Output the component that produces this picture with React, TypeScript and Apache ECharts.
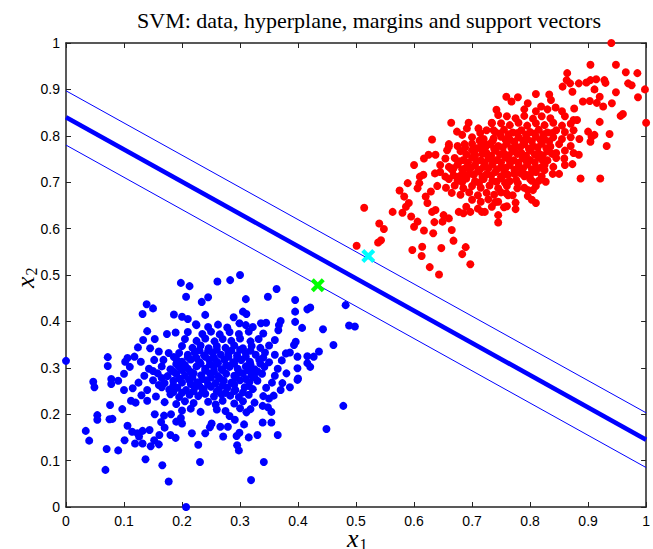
import React, { useEffect, useRef } from "react";
import * as echarts from "echarts";

const TITLE = "SVM: data, hyperplane, margins and support vectors";
const xTicks = [0, 0.1, 0.2, 0.3, 0.4, 0.5, 0.6, 0.7, 0.8, 0.9, 1];
const yTicks = [0, 0.1, 0.2, 0.3, 0.4, 0.5, 0.6, 0.7, 0.8, 0.9, 1];

const hyperplane = [[0, 0.84], [1, 0.145]];
const marginUpper = [[0, 0.897], [1, 0.203]];
const marginLower = [[0, 0.78], [1, 0.085]];

const supportBlue = [[0.434, 0.478]];
const supportRed = [[0.521, 0.541]];

const blueOutliers = [
  [0, 0.315], [0.198, 0.483], [0.213, 0.476], [0.207, 0.453], [0.139, 0.437], [0.15, 0.428], [0.132, 0.416],
  [0.234, 0.442], [0.2, 0.41], [0.186, 0.415], [0.21, 0.405], [0.24, 0.414], [0.224, 0.394], [0.14, 0.379],
  [0.133, 0.36], [0.153, 0.362], [0.174, 0.373], [0.189, 0.376], [0.124, 0.344], [0.145, 0.342], [0.16, 0.335],
  [0.072, 0.323], [0.072, 0.304], [0.106, 0.321], [0.102, 0.313], [0.118, 0.324], [0.129, 0.313], [0.152, 0.317],
  [0.177, 0.332], [0.186, 0.323], [0.191, 0.317], [0.047, 0.27], [0.078, 0.276], [0.078, 0.265],
  [0.261, 0.486], [0.283, 0.489], [0.3, 0.5], [0.363, 0.47], [0.348, 0.453], [0.31, 0.448], [0.245, 0.452],
  [0.395, 0.446], [0.395, 0.421], [0.421, 0.43], [0.416, 0.426], [0.482, 0.435], [0.488, 0.391], [0.498, 0.389],
  [0.443, 0.383], [0.461, 0.349], [0.395, 0.399], [0.407, 0.386], [0.305, 0.421], [0.311, 0.416], [0.289, 0.409],
  [0.336, 0.396], [0.345, 0.397], [0.37, 0.401], [0.367, 0.392], [0.366, 0.381], [0.299, 0.396], [0.396, 0.356],
  [0.393, 0.349], [0.436, 0.335], [0.427, 0.324], [0.416, 0.325], [0.399, 0.324], [0.379, 0.331], [0.386, 0.333],
  [0.416, 0.31], [0.421, 0.302], [0.399, 0.299], [0.4, 0.277],
  [0.478, 0.218], [0.449, 0.168], [0.365, 0.155], [0.341, 0.097], [0.319, 0.058], [0.231, 0.097], [0.298, 0.122],
  [0.295, 0.133], [0.315, 0.15], [0.33, 0.155], [0.271, 0.152], [0.299, 0.16], [0.294, 0.153], [0.339, 0.182],
  [0.354, 0.182], [0.307, 0.178], [0.266, 0.173], [0.279, 0.173], [0.282, 0.196], [0.291, 0.188], [0.24, 0.159],
  [0.251, 0.18], [0.248, 0.172], [0.318, 0.211], [0.339, 0.218], [0.348, 0.215], [0.354, 0.205], [0.35, 0.234],
  [0.358, 0.24], [0.37, 0.252], [0.373, 0.267], [0.386, 0.258], [0.399, 0.274],
  [0.207, 0.0], [0.177, 0.055], [0.068, 0.08], [0.137, 0.103], [0.166, 0.09], [0.07, 0.125], [0.09, 0.122],
  [0.04, 0.143], [0.034, 0.164], [0.101, 0.144], [0.106, 0.175], [0.114, 0.162], [0.123, 0.159], [0.132, 0.164],
  [0.126, 0.152], [0.119, 0.137], [0.132, 0.137], [0.146, 0.131], [0.16, 0.135], [0.152, 0.144], [0.144, 0.166],
  [0.161, 0.155], [0.17, 0.171], [0.18, 0.155], [0.189, 0.149], [0.054, 0.198], [0.054, 0.188], [0.075, 0.189],
  [0.08, 0.19], [0.076, 0.22], [0.097, 0.211], [0.112, 0.229], [0.12, 0.225], [0.14, 0.229], [0.1, 0.252],
  [0.049, 0.258], [0.228, 0.134], [0.217, 0.159], [0.153, 0.2], [0.169, 0.197], [0.164, 0.183], [0.181, 0.2],
  [0.19, 0.184], [0.198, 0.192], [0.2, 0.18],
];

const blueCore = [
  [0.2, 0.208], [0.215, 0.212], [0.232, 0.205], [0.26, 0.21], [0.275, 0.207], [0.3, 0.213], [0.311, 0.204],
  [0.17, 0.226], [0.19, 0.222], [0.205, 0.228], [0.22, 0.224], [0.245, 0.227], [0.258, 0.221], [0.27, 0.229],
  [0.29, 0.223], [0.305, 0.228], [0.325, 0.225],
  [0.13, 0.241], [0.155, 0.238], [0.18, 0.243], [0.195, 0.237], [0.213, 0.242], [0.228, 0.239], [0.24, 0.244],
  [0.255, 0.238], [0.268, 0.243], [0.283, 0.24], [0.298, 0.237], [0.315, 0.242], [0.34, 0.239],
  [0.115, 0.256], [0.14, 0.252], [0.165, 0.258], [0.178, 0.253], [0.192, 0.257], [0.207, 0.252], [0.222, 0.258],
  [0.237, 0.254], [0.25, 0.259], [0.263, 0.253], [0.278, 0.257], [0.292, 0.252], [0.308, 0.258], [0.322, 0.254],
  [0.345, 0.257],
  [0.09, 0.272], [0.125, 0.268], [0.15, 0.273], [0.17, 0.267], [0.185, 0.272], [0.2, 0.268], [0.212, 0.274],
  [0.226, 0.269], [0.242, 0.273], [0.258, 0.267], [0.272, 0.272], [0.285, 0.268], [0.3, 0.273], [0.316, 0.269],
  [0.33, 0.272], [0.355, 0.268],
  [0.1, 0.287], [0.135, 0.283], [0.158, 0.288], [0.175, 0.282], [0.19, 0.287], [0.205, 0.283], [0.22, 0.288],
  [0.233, 0.284], [0.248, 0.288], [0.262, 0.282], [0.276, 0.287], [0.29, 0.283], [0.305, 0.288], [0.32, 0.284],
  [0.338, 0.287], [0.36, 0.283], [0.38, 0.288],
  [0.11, 0.302], [0.143, 0.298], [0.165, 0.303], [0.18, 0.297], [0.195, 0.302], [0.21, 0.298], [0.225, 0.303],
  [0.24, 0.298], [0.255, 0.303], [0.268, 0.297], [0.282, 0.302], [0.296, 0.298], [0.31, 0.303], [0.325, 0.297],
  [0.342, 0.302], [0.365, 0.298],
  [0.168, 0.317], [0.2, 0.313], [0.215, 0.318], [0.23, 0.312], [0.247, 0.317], [0.26, 0.313], [0.273, 0.318],
  [0.288, 0.312], [0.302, 0.317], [0.317, 0.313], [0.333, 0.318], [0.35, 0.312], [0.372, 0.316],
  [0.195, 0.332], [0.21, 0.328], [0.222, 0.333], [0.238, 0.327], [0.253, 0.332], [0.267, 0.328], [0.28, 0.333],
  [0.295, 0.327], [0.31, 0.332], [0.327, 0.328], [0.343, 0.333], [0.36, 0.328],
  [0.2, 0.347], [0.218, 0.343], [0.232, 0.348], [0.246, 0.342], [0.26, 0.347], [0.275, 0.343], [0.29, 0.348],
  [0.305, 0.342], [0.32, 0.347], [0.335, 0.343], [0.35, 0.348],
  [0.205, 0.362], [0.225, 0.358], [0.24, 0.363], [0.256, 0.357], [0.27, 0.362], [0.285, 0.358], [0.3, 0.363],
  [0.318, 0.357], [0.332, 0.362], [0.36, 0.36],
  [0.21, 0.377], [0.235, 0.373], [0.25, 0.378], [0.265, 0.372], [0.282, 0.377], [0.298, 0.373], [0.315, 0.378],
  [0.34, 0.374],
  [0.225, 0.392], [0.245, 0.388], [0.262, 0.393], [0.278, 0.387], [0.31, 0.392], [0.322, 0.388],
];

const blueCoreDense = [
  [0.185, 0.248], [0.2, 0.246], [0.22, 0.25], [0.235, 0.247], [0.26, 0.249], [0.275, 0.246], [0.29, 0.25], [0.305, 0.247],
  [0.16, 0.263], [0.185, 0.262], [0.215, 0.265], [0.23, 0.261], [0.245, 0.264], [0.27, 0.262], [0.29, 0.264], [0.315, 0.261],
  [0.165, 0.278], [0.195, 0.277], [0.218, 0.28], [0.235, 0.276], [0.25, 0.279], [0.265, 0.277], [0.293, 0.279],
  [0.31, 0.276], [0.325, 0.279],
  [0.15, 0.293], [0.185, 0.292], [0.2, 0.295], [0.215, 0.291], [0.24, 0.294], [0.255, 0.292], [0.27, 0.295],
  [0.298, 0.291], [0.315, 0.294], [0.33, 0.292],
  [0.19, 0.308], [0.205, 0.306], [0.232, 0.309], [0.248, 0.307], [0.262, 0.31], [0.276, 0.306], [0.29, 0.309],
  [0.318, 0.307], [0.335, 0.309],
  [0.21, 0.323], [0.225, 0.321], [0.24, 0.324], [0.255, 0.322], [0.28, 0.324], [0.295, 0.321], [0.31, 0.324], [0.34, 0.322],
  [0.23, 0.338], [0.245, 0.337], [0.26, 0.339], [0.285, 0.337], [0.3, 0.339], [0.318, 0.337],
];

const redOutliers = [
  [0.664, 0.828], [0.631, 0.792], [0.694, 0.828], [0.691, 0.816], [0.674, 0.809], [0.683, 0.802], [0.711, 0.816],
  [0.714, 0.806], [0.734, 0.828], [0.737, 0.812], [0.737, 0.794], [0.6, 0.737], [0.617, 0.751], [0.625, 0.759],
  [0.637, 0.759], [0.616, 0.716], [0.61, 0.712], [0.657, 0.769], [0.66, 0.777], [0.654, 0.751], [0.687, 0.782],
  [0.663, 0.73], [0.654, 0.712], [0.677, 0.712], [0.685, 0.719], [0.7, 0.769], [0.705, 0.759], [0.717, 0.769],
  [0.72, 0.784],
  [0.94, 1.0], [0.904, 0.953], [0.948, 0.953], [0.965, 0.937], [0.985, 0.935], [0.864, 0.935], [0.863, 0.92],
  [0.856, 0.906], [0.869, 0.913], [0.884, 0.913], [0.873, 0.895], [0.897, 0.915], [0.904, 0.92], [0.914, 0.922],
  [0.928, 0.92], [0.93, 0.914], [0.911, 0.9], [0.948, 0.894], [0.969, 0.913], [0.975, 0.909], [0.998, 0.9],
  [0.986, 0.883], [0.92, 0.884], [0.915, 0.871], [0.903, 0.875], [0.891, 0.874], [0.926, 0.863], [0.941, 0.87],
  [0.96, 0.847], [0.956, 0.843], [1.0, 0.828], [0.92, 0.83], [0.9, 0.809], [0.906, 0.798], [0.911, 0.802],
  [0.904, 0.787], [0.937, 0.804], [0.932, 0.778], [0.876, 0.859], [0.875, 0.834], [0.881, 0.834], [0.884, 0.759],
  [0.873, 0.739], [0.859, 0.751], [0.887, 0.708], [0.921, 0.708], [0.759, 0.884], [0.779, 0.883], [0.768, 0.874],
  [0.796, 0.87], [0.81, 0.89], [0.833, 0.889], [0.836, 0.877], [0.844, 0.861], [0.819, 0.863], [0.742, 0.856],
  [0.745, 0.845], [0.734, 0.827],
  [0.514, 0.645], [0.54, 0.611], [0.548, 0.599], [0.543, 0.575], [0.538, 0.57], [0.501, 0.563], [0.597, 0.554],
  [0.614, 0.561], [0.613, 0.541], [0.627, 0.517], [0.643, 0.501], [0.647, 0.558], [0.683, 0.545], [0.689, 0.56],
  [0.697, 0.523], [0.668, 0.574], [0.665, 0.597], [0.633, 0.59], [0.617, 0.596], [0.6, 0.604], [0.606, 0.615],
  [0.595, 0.626], [0.58, 0.634], [0.563, 0.636], [0.586, 0.647], [0.575, 0.682], [0.589, 0.698], [0.606, 0.687],
  [0.609, 0.698], [0.62, 0.669], [0.629, 0.68], [0.649, 0.615], [0.635, 0.614], [0.636, 0.719], [0.666, 0.726],
  [0.683, 0.718],
  [0.583, 0.669], [0.591, 0.655], [0.623, 0.655], [0.637, 0.64], [0.631, 0.636], [0.651, 0.629], [0.66, 0.622],
  [0.677, 0.636], [0.685, 0.633], [0.697, 0.636], [0.717, 0.636],
  [0.81, 0.655], [0.803, 0.662], [0.805, 0.683], [0.796, 0.683], [0.796, 0.67], [0.775, 0.656], [0.775, 0.642],
  [0.755, 0.646], [0.745, 0.629], [0.745, 0.613], [0.734, 0.647], [0.722, 0.636], [0.745, 0.658], [0.759, 0.676],
  [0.762, 0.672], [0.778, 0.687], [0.776, 0.705], [0.779, 0.698], [0.803, 0.703], [0.827, 0.701], [0.839, 0.718],
  [0.825, 0.726], [0.793, 0.716], [0.784, 0.719], [0.756, 0.723], [0.762, 0.716], [0.759, 0.698],
];

const redCore = [
  [0.69, 0.647], [0.71, 0.643], [0.76, 0.648],
  [0.7, 0.662], [0.715, 0.658], [0.728, 0.663], [0.74, 0.657],
  [0.665, 0.677], [0.68, 0.673], [0.695, 0.678], [0.71, 0.672], [0.725, 0.677], [0.738, 0.673], [0.75, 0.678],
  [0.77, 0.672],
  [0.64, 0.692], [0.655, 0.688], [0.67, 0.693], [0.685, 0.687], [0.7, 0.692], [0.715, 0.688], [0.73, 0.693],
  [0.745, 0.687], [0.76, 0.692], [0.79, 0.688], [0.81, 0.692],
  [0.66, 0.707], [0.675, 0.703], [0.69, 0.708], [0.705, 0.702], [0.72, 0.707], [0.735, 0.703], [0.75, 0.708],
  [0.765, 0.702], [0.8, 0.707], [0.815, 0.703],
  [0.645, 0.722], [0.695, 0.718], [0.71, 0.723], [0.725, 0.717], [0.74, 0.722], [0.773, 0.718], [0.81, 0.722],
  [0.85, 0.718],
  [0.645, 0.737], [0.66, 0.733], [0.675, 0.738], [0.69, 0.732], [0.705, 0.737], [0.72, 0.733], [0.735, 0.738],
  [0.75, 0.732], [0.765, 0.737], [0.78, 0.733], [0.795, 0.738], [0.81, 0.732], [0.825, 0.737], [0.84, 0.733],
  [0.86, 0.737],
  [0.67, 0.752], [0.685, 0.748], [0.7, 0.753], [0.715, 0.747], [0.728, 0.752], [0.743, 0.748], [0.758, 0.753],
  [0.772, 0.747], [0.787, 0.752], [0.8, 0.748], [0.815, 0.753], [0.83, 0.747], [0.845, 0.752],
  [0.68, 0.767], [0.725, 0.763], [0.74, 0.768], [0.755, 0.762], [0.77, 0.767], [0.785, 0.763], [0.8, 0.768],
  [0.815, 0.762], [0.83, 0.767], [0.845, 0.763], [0.86, 0.768], [0.875, 0.763],
  [0.66, 0.782], [0.675, 0.778], [0.7, 0.783], [0.715, 0.777], [0.73, 0.782], [0.745, 0.778], [0.76, 0.783],
  [0.775, 0.777], [0.79, 0.782], [0.805, 0.778], [0.82, 0.783], [0.835, 0.777], [0.85, 0.782], [0.87, 0.778],
  [0.7, 0.797], [0.72, 0.793], [0.75, 0.798], [0.765, 0.792], [0.78, 0.797], [0.795, 0.793], [0.81, 0.798],
  [0.825, 0.792], [0.84, 0.797], [0.855, 0.793], [0.87, 0.797], [0.885, 0.793],
  [0.725, 0.812], [0.74, 0.808], [0.755, 0.813], [0.77, 0.807], [0.785, 0.812], [0.8, 0.808], [0.815, 0.813],
  [0.83, 0.807], [0.845, 0.812], [0.86, 0.808], [0.875, 0.812],
  [0.75, 0.827], [0.765, 0.823], [0.78, 0.828], [0.795, 0.822], [0.81, 0.827], [0.825, 0.823], [0.84, 0.828],
  [0.855, 0.822], [0.87, 0.826],
  [0.76, 0.842], [0.775, 0.838], [0.79, 0.843], [0.805, 0.837], [0.82, 0.842], [0.835, 0.838], [0.86, 0.842],
  [0.79, 0.857], [0.81, 0.853], [0.83, 0.857], [0.855, 0.853],
];

const redCoreDense = [
  [0.683, 0.7], [0.712, 0.699], [0.742, 0.701], [0.757, 0.698],
  [0.668, 0.715], [0.683, 0.713], [0.703, 0.716], [0.718, 0.712], [0.733, 0.715], [0.75, 0.713], [0.76, 0.716],
  [0.79, 0.713], [0.8, 0.716], [0.82, 0.713],
  [0.668, 0.73], [0.683, 0.728], [0.698, 0.731], [0.713, 0.727], [0.728, 0.73], [0.743, 0.728], [0.758, 0.731],
  [0.773, 0.727], [0.788, 0.73], [0.803, 0.728], [0.818, 0.731],
  [0.678, 0.745], [0.693, 0.743], [0.708, 0.746], [0.722, 0.742], [0.736, 0.745], [0.75, 0.743], [0.765, 0.746],
  [0.78, 0.742], [0.794, 0.745], [0.808, 0.743], [0.822, 0.746],
  [0.69, 0.76], [0.705, 0.758], [0.718, 0.761], [0.733, 0.757], [0.748, 0.76], [0.763, 0.758], [0.778, 0.761],
  [0.793, 0.757], [0.808, 0.76], [0.822, 0.758], [0.838, 0.761],
  [0.688, 0.775], [0.708, 0.773], [0.723, 0.776], [0.738, 0.772], [0.753, 0.775], [0.768, 0.773], [0.783, 0.776],
  [0.798, 0.772], [0.813, 0.775], [0.828, 0.773],
  [0.713, 0.79], [0.735, 0.788], [0.758, 0.791], [0.773, 0.787], [0.788, 0.79], [0.803, 0.788], [0.818, 0.791],
  [0.833, 0.788],
  [0.748, 0.805], [0.763, 0.803], [0.778, 0.806], [0.793, 0.802], [0.808, 0.805], [0.823, 0.803], [0.838, 0.806],
];

const blueData = [...blueOutliers, ...blueCore, ...blueCoreDense];
const redData = [...redOutliers, ...redCore, ...redCoreDense];

const CROSS = "path://M0,3 L3,0 L7,4 L11,0 L14,3 L10,7 L14,11 L11,14 L7,10 L3,14 L0,11 L4,7 Z";
const fmt = (v: number) => (Math.abs(v - Math.round(v)) < 1e-9 ? String(Math.round(v)) : v.toFixed(1));
const tickFont = "Liberation Sans";
const serif = "Liberation Serif";

export default function App() {
  const ref = useRef<HTMLDivElement>(null);
  useEffect(() => {
    if (!ref.current) return;
    const chart = echarts.init(ref.current, undefined, { renderer: "svg" });
    const axisCommon = {
      type: "value" as const,
      min: 0,
      max: 1,
      interval: 0.1,
      axisLine: { show: true, onZero: false, lineStyle: { color: "#222", width: 1.5 } },
      axisTick: { show: true, inside: true, length: 5, lineStyle: { color: "#222", width: 1 } },
      splitLine: { show: false },
    };
    const richLabel = {
      x: { fontFamily: serif, fontStyle: "italic", fontSize: 26, fill: "#000", verticalAlign: "top", lineHeight: 26 },
      s: { fontFamily: serif, fontSize: 16, fill: "#000", verticalAlign: "top", lineHeight: 16, padding: [11, 0, 0, 1] },
    };
    chart.setOption({
      animation: false,
      backgroundColor: "#fff",
      grid: { left: 66, top: 43, width: 587, height: 464, show: false },
      xAxis: [
        {
          ...axisCommon,
          position: "bottom",
          axisLabel: { formatter: fmt, fontFamily: tickFont, fontSize: 14, color: "#000", margin: 7 },
        },
        { ...axisCommon, position: "top", axisLabel: { show: false } },
      ],
      yAxis: [
        {
          ...axisCommon,
          position: "left",
          axisLabel: { formatter: fmt, fontFamily: tickFont, fontSize: 14, color: "#000", margin: 6 },
        },
        { ...axisCommon, position: "right", axisLabel: { show: false } },
      ],
      graphic: [
        {
          type: "text",
          x: 369,
          y: 20,
          style: {
            text: TITLE,
            textAlign: "center",
            textVerticalAlign: "middle",
            fontFamily: serif,
            fontSize: 22,
            fill: "#000",
          },
        },
        {
          type: "text",
          x: 347,
          y: 525,
          style: { text: "{x|x}{s|1}", rich: richLabel },
        },
        {
          type: "text",
          x: 12,
          y: 288,
          rotation: Math.PI / 2,
          style: { text: "{x|x}{s|2}", rich: richLabel },
        },
      ],
      series: [
        {
          type: "scatter",
          data: blueData,
          symbol: "circle",
          symbolSize: 8,
          itemStyle: { color: "#0000ff", opacity: 1 },
          silent: true,
        },
        {
          type: "scatter",
          data: redData,
          symbol: "circle",
          symbolSize: 8,
          itemStyle: { color: "#ff0000", opacity: 1 },
          silent: true,
        },
        {
          type: "line",
          data: hyperplane,
          symbol: "none",
          lineStyle: { color: "#0000ff", width: 4.5 },
          silent: true,
        },
        {
          type: "line",
          data: marginUpper,
          symbol: "none",
          lineStyle: { color: "#0000ff", width: 1 },
          silent: true,
        },
        {
          type: "line",
          data: marginLower,
          symbol: "none",
          lineStyle: { color: "#0000ff", width: 1 },
          silent: true,
        },
        {
          type: "scatter",
          data: supportBlue,
          symbol: CROSS,
          symbolSize: 14,
          itemStyle: { color: "#00ff00", opacity: 1 },
          silent: true,
          z: 5,
        },
        {
          type: "scatter",
          data: supportRed,
          symbol: CROSS,
          symbolSize: 14,
          itemStyle: { color: "#00ffff", opacity: 1 },
          silent: true,
          z: 5,
        },
      ],
    });
    return () => chart.dispose();
  }, []);
  return (
    <div
      ref={ref}
      style={{ position: "absolute", left: 0, top: 0, width: 653, height: 549, background: "#fff" }}
    />
  );
}
